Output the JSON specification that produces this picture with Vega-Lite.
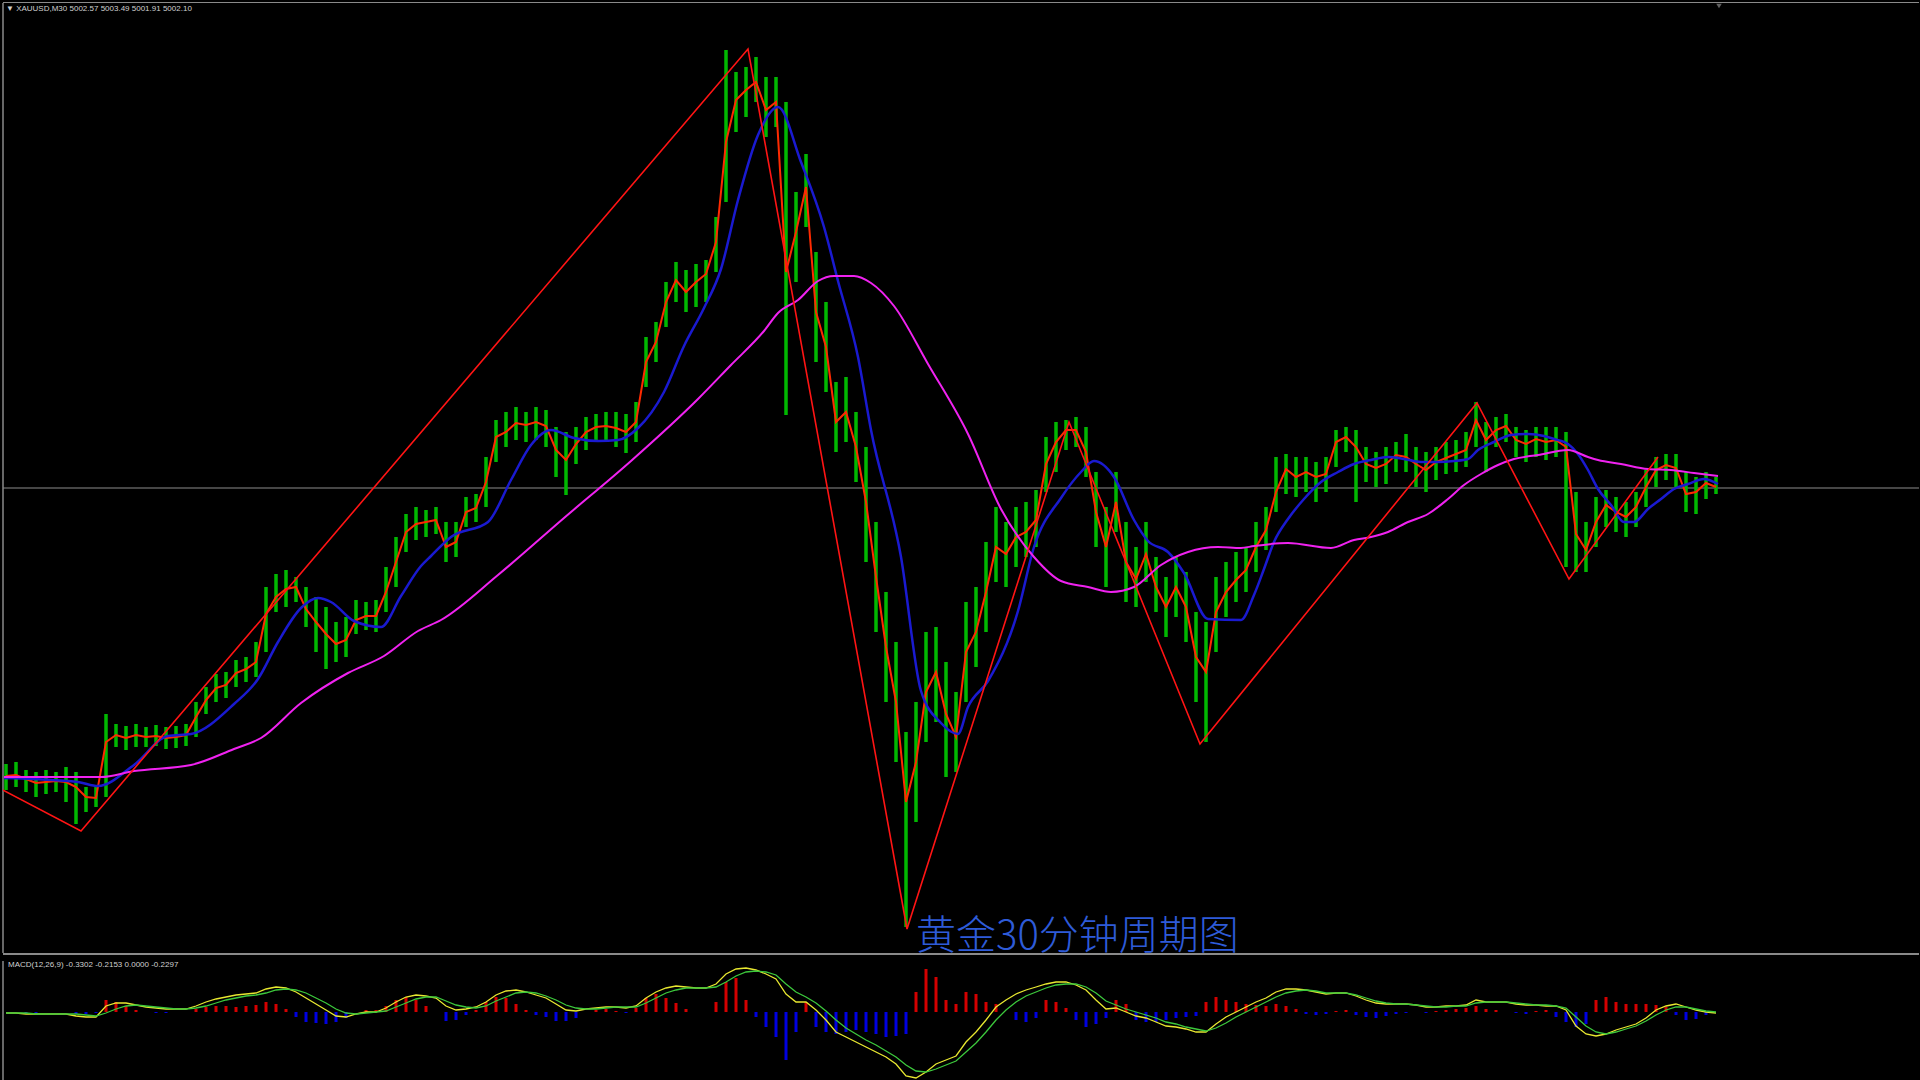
{
"$schema": "https://vega.github.io/schema/vega-lite/v6.json",
"background": "#000000",
"padding": {"left": 2, "top": 1, "right": 2, "bottom": 1},
"spacing": 3,
"config": {"view": {"stroke": null}, "axis": {"disable": true}},
"datasets": {
"bars": [
{"i":0,"h":4726,"l":4700,"r":4714},{"i":1,"h":4728,"l":4703,"r":4715},{"i":2,"h":4720,"l":4698,"r":4711},{"i":3,"h":4718,"l":4693,"r":4707},{"i":4,"h":4720,"l":4696,"r":4708},{"i":5,"h":4718,"l":4698,"r":4709},{"i":6,"h":4723,"l":4688,"r":4708},{"i":7,"h":4718,"l":4666,"r":4703},{"i":8,"h":4703,"l":4678,"r":4693},{"i":9,"h":4703,"l":4683,"r":4692},
{"i":10,"h":4776,"l":4693,"r":4748},{"i":11,"h":4766,"l":4743,"r":4755},{"i":12,"h":4764,"l":4740,"r":4752},{"i":13,"h":4766,"l":4743,"r":4755},{"i":14,"h":4763,"l":4743,"r":4753},{"i":15,"h":4765,"l":4744,"r":4754},{"i":16,"h":4763,"l":4741,"r":4752},{"i":17,"h":4764,"l":4742,"r":4753},{"i":18,"h":4766,"l":4744,"r":4755},{"i":19,"h":4788,"l":4753,"r":4773},
{"i":20,"h":4803,"l":4776,"r":4790},{"i":21,"h":4816,"l":4788,"r":4802},{"i":22,"h":4818,"l":4792,"r":4805},{"i":23,"h":4830,"l":4803,"r":4817},{"i":24,"h":4833,"l":4808,"r":4821},{"i":25,"h":4848,"l":4813,"r":4828},{"i":26,"h":4903,"l":4838,"r":4876},{"i":27,"h":4916,"l":4878,"r":4893},{"i":28,"h":4920,"l":4883,"r":4901},{"i":29,"h":4913,"l":4888,"r":4903},
{"i":30,"h":4903,"l":4863,"r":4881},{"i":31,"h":4893,"l":4838,"r":4868},{"i":32,"h":4883,"l":4821,"r":4856},{"i":33,"h":4868,"l":4828,"r":4846},{"i":34,"h":4873,"l":4833,"r":4850},{"i":35,"h":4890,"l":4856,"r":4870},{"i":36,"h":4888,"l":4860,"r":4874},{"i":37,"h":4890,"l":4858,"r":4874},{"i":38,"h":4923,"l":4878,"r":4898},{"i":39,"h":4953,"l":4903,"r":4928},
{"i":40,"h":4976,"l":4938,"r":4958},{"i":41,"h":4983,"l":4950,"r":4966},{"i":42,"h":4980,"l":4953,"r":4968},{"i":43,"h":4983,"l":4956,"r":4970},{"i":44,"h":4968,"l":4928,"r":4943},{"i":45,"h":4968,"l":4933,"r":4948},{"i":46,"h":4993,"l":4963,"r":4978},{"i":47,"h":4996,"l":4968,"r":4982},{"i":48,"h":5033,"l":4983,"r":5008},{"i":49,"h":5070,"l":5028,"r":5053},
{"i":50,"h":5078,"l":5043,"r":5058},{"i":51,"h":5083,"l":5050,"r":5067},{"i":52,"h":5078,"l":5048,"r":5065},{"i":53,"h":5083,"l":5050,"r":5068},{"i":54,"h":5080,"l":5043,"r":5064},{"i":55,"h":5063,"l":5013,"r":5040},{"i":56,"h":5058,"l":4995,"r":5030},{"i":57,"h":5063,"l":5026,"r":5046},{"i":58,"h":5073,"l":5040,"r":5058},{"i":59,"h":5076,"l":5048,"r":5063},
{"i":60,"h":5078,"l":5048,"r":5064},{"i":61,"h":5078,"l":5043,"r":5062},{"i":62,"h":5076,"l":5037,"r":5058},{"i":63,"h":5088,"l":5048,"r":5068},{"i":64,"h":5153,"l":5103,"r":5128},{"i":65,"h":5168,"l":5128,"r":5148},{"i":66,"h":5208,"l":5163,"r":5188},{"i":67,"h":5228,"l":5188,"r":5210},{"i":68,"h":5220,"l":5178,"r":5198},{"i":69,"h":5226,"l":5183,"r":5208},
{"i":70,"h":5230,"l":5188,"r":5216},{"i":71,"h":5273,"l":5218,"r":5248},{"i":72,"h":5440,"l":5288,"r":5348},{"i":73,"h":5418,"l":5358,"r":5390},{"i":74,"h":5423,"l":5373,"r":5400},{"i":75,"h":5433,"l":5388,"r":5408},{"i":76,"h":5413,"l":5353,"r":5380},{"i":77,"h":5413,"l":5363,"r":5388},{"i":78,"h":5388,"l":5075,"r":5218},{"i":79,"h":5298,"l":5208,"r":5258},
{"i":80,"h":5336,"l":5263,"r":5303},{"i":81,"h":5238,"l":5128,"r":5178},{"i":82,"h":5188,"l":5098,"r":5143},{"i":83,"h":5108,"l":5038,"r":5068},{"i":84,"h":5113,"l":5048,"r":5078},{"i":85,"h":5078,"l":5008,"r":5043},{"i":86,"h":5043,"l":4928,"r":4988},{"i":87,"h":4968,"l":4858,"r":4913},{"i":88,"h":4898,"l":4788,"r":4843},{"i":89,"h":4848,"l":4728,"r":4788},
{"i":90,"h":4758,"l":4563,"r":4688},{"i":91,"h":4788,"l":4668,"r":4728},{"i":92,"h":4858,"l":4748,"r":4798},{"i":93,"h":4863,"l":4768,"r":4818},{"i":94,"h":4828,"l":4713,"r":4776},{"i":95,"h":4798,"l":4718,"r":4753},{"i":96,"h":4888,"l":4788,"r":4838},{"i":97,"h":4903,"l":4823,"r":4858},{"i":98,"h":4948,"l":4858,"r":4898},{"i":99,"h":4983,"l":4908,"r":4943},
{"i":100,"h":4968,"l":4903,"r":4936},{"i":101,"h":4983,"l":4923,"r":4953},{"i":102,"h":4988,"l":4933,"r":4958},{"i":103,"h":5000,"l":4943,"r":4970},{"i":104,"h":5053,"l":4998,"r":5026},{"i":105,"h":5068,"l":5018,"r":5048},{"i":106,"h":5070,"l":5040,"r":5060},{"i":107,"h":5073,"l":5043,"r":5060},{"i":108,"h":5063,"l":5013,"r":5038},{"i":109,"h":5018,"l":4943,"r":4978},
{"i":110,"h":4983,"l":4903,"r":4943},{"i":111,"h":5018,"l":4958,"r":4988},{"i":112,"h":4968,"l":4888,"r":4928},{"i":113,"h":4943,"l":4883,"r":4911},{"i":114,"h":4968,"l":4908,"r":4936},{"i":115,"h":4933,"l":4878,"r":4903},{"i":116,"h":4913,"l":4853,"r":4883},{"i":117,"h":4933,"l":4873,"r":4903},{"i":118,"h":4918,"l":4848,"r":4883},{"i":119,"h":4878,"l":4788,"r":4833},
{"i":120,"h":4868,"l":4748,"r":4818},{"i":121,"h":4913,"l":4838,"r":4878},{"i":122,"h":4928,"l":4873,"r":4898},{"i":123,"h":4938,"l":4888,"r":4910},{"i":124,"h":4943,"l":4898,"r":4920},{"i":125,"h":4968,"l":4918,"r":4943},{"i":126,"h":4983,"l":4940,"r":4960},{"i":127,"h":5033,"l":4978,"r":4998},{"i":128,"h":5036,"l":4996,"r":5021},{"i":129,"h":5033,"l":4993,"r":5013},
{"i":130,"h":5033,"l":4998,"r":5018},{"i":131,"h":5028,"l":4988,"r":5013},{"i":132,"h":5033,"l":4998,"r":5016},{"i":133,"h":5060,"l":5023,"r":5048},{"i":134,"h":5063,"l":5038,"r":5053},{"i":135,"h":5060,"l":4988,"r":5043},{"i":136,"h":5043,"l":5008,"r":5026},{"i":137,"h":5038,"l":5003,"r":5022},{"i":138,"h":5043,"l":5006,"r":5026},{"i":139,"h":5048,"l":5018,"r":5035},
{"i":140,"h":5056,"l":5018,"r":5033},{"i":141,"h":5043,"l":5003,"r":5026},{"i":142,"h":5038,"l":4998,"r":5020},{"i":143,"h":5043,"l":5010,"r":5028},{"i":144,"h":5048,"l":5016,"r":5032},{"i":145,"h":5050,"l":5018,"r":5036},{"i":146,"h":5058,"l":5023,"r":5040},{"i":147,"h":5088,"l":5043,"r":5070},{"i":148,"h":5068,"l":5018,"r":5050},{"i":149,"h":5073,"l":5043,"r":5060},
{"i":150,"h":5076,"l":5048,"r":5064},{"i":151,"h":5063,"l":5033,"r":5050},{"i":152,"h":5060,"l":5028,"r":5046},{"i":153,"h":5063,"l":5033,"r":5051},{"i":154,"h":5063,"l":5030,"r":5048},{"i":155,"h":5063,"l":5033,"r":5050},{"i":156,"h":5058,"l":4923,"r":5043},{"i":157,"h":4998,"l":4918,"r":4956},{"i":158,"h":4968,"l":4918,"r":4940},{"i":159,"h":4993,"l":4943,"r":4968},
{"i":160,"h":5000,"l":4963,"r":4985},{"i":161,"h":4993,"l":4958,"r":4978},{"i":162,"h":4988,"l":4953,"r":4973},{"i":163,"h":4998,"l":4963,"r":4983},{"i":164,"h":5020,"l":4983,"r":5003},{"i":165,"h":5033,"l":5003,"r":5020},{"i":166,"h":5036,"l":5010,"r":5025},{"i":167,"h":5036,"l":5003,"r":5022},{"i":168,"h":5018,"l":4978,"r":4996},{"i":169,"h":5013,"l":4976,"r":4998},
{"i":170,"h":5018,"l":4991,"r":5007},{"i":171,"h":5013,"l":4996,"r":5003}
],
"blue": [
{"i":-0.2,"p":4712},{"i":7.2,"p":4708},{"i":9.2,"p":4704},{"i":12.8,"p":4725},{"i":16.2,"p":4754},{"i":18.5,"p":4756},{"i":22.8,"p":4786},{"i":25.2,"p":4811},{"i":27.2,"p":4848},{"i":29.5,"p":4882},{"i":31.2,"p":4892},{"i":32.5,"p":4888},{"i":34.8,"p":4869},{"i":37.5,"p":4863},{"i":39.5,"p":4894},{"i":41.5,"p":4924},{"i":42.5,"p":4934},{"i":44.5,"p":4953},{"i":48.2,"p":4968},{"i":50.5,"p":5010},{"i":52.5,"p":5045},{"i":54.5,"p":5060},{"i":56.8,"p":5052},{"i":59.2,"p":5049},{"i":61.2,"p":5050},{"i":63.2,"p":5062},{"i":65.8,"p":5098},{"i":67.8,"p":5144},{"i":69.8,"p":5182},{"i":71.5,"p":5221},{"i":73.2,"p":5290},{"i":75.2,"p":5355},{"i":77.2,"p":5383},{"i":79.5,"p":5328},{"i":81.8,"p":5263},{"i":83.2,"p":5209},{"i":85.2,"p":5133},{"i":86.5,"p":5060},{"i":89.5,"p":4933},{"i":91.5,"p":4799},{"i":93.5,"p":4767},{"i":95.2,"p":4756},{"i":96.2,"p":4783},{"i":98.2,"p":4809},{"i":101.2,"p":4879},{"i":102.8,"p":4943},{"i":105.5,"p":4992},{"i":107.5,"p":5018},{"i":108.8,"p":5029},{"i":110.8,"p":5013},{"i":112.8,"p":4970},{"i":114.2,"p":4949},{"i":116.2,"p":4938},{"i":117.8,"p":4917},{"i":120.2,"p":4871},{"i":123.5,"p":4870},{"i":124.8,"p":4895},{"i":125.8,"p":4921},{"i":126.8,"p":4948},{"i":128.2,"p":4971},{"i":129.8,"p":4991},{"i":131.5,"p":5008},{"i":133.2,"p":5018},{"i":134.8,"p":5026},{"i":136.5,"p":5030},{"i":138.2,"p":5033},{"i":139.8,"p":5031},{"i":141.5,"p":5028},{"i":143.2,"p":5028},{"i":144.8,"p":5029},{"i":146.2,"p":5031},{"i":147.2,"p":5040},{"i":148.8,"p":5048},{"i":150.5,"p":5055},{"i":152.2,"p":5056},{"i":153.8,"p":5054},{"i":154.8,"p":5051},{"i":156.2,"p":5046},{"i":157.2,"p":5036},{"i":158.2,"p":5020},{"i":159.2,"p":5001},{"i":160.5,"p":4985},{"i":161.8,"p":4968},{"i":162.8,"p":4968},{"i":164.2,"p":4981},{"i":165.5,"p":4991},{"i":166.8,"p":5001},{"i":168.2,"p":5006},{"i":169.8,"p":5011},{"i":171.2,"p":5006}
],
"mag": [
{"i":-0.2,"p":4713},{"i":9.5,"p":4713},{"i":12.8,"p":4719},{"i":18.5,"p":4725},{"i":22.8,"p":4741},{"i":25.5,"p":4752},{"i":29.5,"p":4787},{"i":34.2,"p":4817},{"i":37.8,"p":4834},{"i":41.2,"p":4859},{"i":43.5,"p":4870},{"i":49.2,"p":4915},{"i":55.8,"p":4972},{"i":62.5,"p":5029},{"i":69.2,"p":5091},{"i":72.5,"p":5125},{"i":75.8,"p":5159},{"i":77.2,"p":5177},{"i":79.2,"p":5190},{"i":81.2,"p":5209},{"i":82.8,"p":5214},{"i":84.8,"p":5214},{"i":86.5,"p":5207},{"i":88.8,"p":5184},{"i":92.2,"p":5126},{"i":96.2,"p":5056},{"i":99.5,"p":4981},{"i":102.8,"p":4933},{"i":105.5,"p":4909},{"i":108.2,"p":4903},{"i":110.5,"p":4898},{"i":112.8,"p":4903},{"i":115.5,"p":4925},{"i":118.2,"p":4938},{"i":121.2,"p":4943},{"i":123.5,"p":4942},{"i":124.8,"p":4944},{"i":128.2,"p":4947},{"i":132.5,"p":4942},{"i":134.8,"p":4950},{"i":136.5,"p":4953},{"i":138.2,"p":4958},{"i":140.2,"p":4968},{"i":142.2,"p":4976},{"i":144.2,"p":4991},{"i":145.8,"p":5005},{"i":147.5,"p":5016},{"i":149.2,"p":5025},{"i":150.8,"p":5031},{"i":153.2,"p":5035},{"i":156.2,"p":5040},{"i":158.2,"p":5033},{"i":159.2,"p":5030},{"i":161.5,"p":5026},{"i":164.2,"p":5021},{"i":166.5,"p":5020},{"i":168.8,"p":5017},{"i":171.2,"p":5014}
],
"zz": [
{"i":-0.5,"p":4701},{"i":7.5,"p":4659},{"i":74.2,"p":5441},{"i":90.1,"p":4561},{"i":106.3,"p":5068},{"i":119.4,"p":4746},{"i":147.1,"p":5087},{"i":156.3,"p":4911},{"i":165.2,"p":5033}
],
"macd": [
{"i":0,"m":-1,"s":-1,"h":0},{"i":1,"m":-1,"s":-1,"h":0},{"i":2,"m":-2,"s":-1,"h":-1},{"i":3,"m":-2,"s":-2,"h":-1},{"i":4,"m":-2,"s":-2,"h":0},{"i":5,"m":-2,"s":-2,"h":0},{"i":6,"m":-2,"s":-2,"h":0},{"i":7,"m":-4,"s":-2,"h":-2},{"i":8,"m":-5,"s":-3,"h":-2},{"i":9,"m":-5,"s":-4,"h":-1},
{"i":10,"m":6,"s":-1,"h":12},{"i":11,"m":9,"s":3,"h":10},{"i":12,"m":9,"s":6,"h":6},{"i":13,"m":7,"s":7,"h":2},{"i":14,"m":5,"s":6,"h":0},{"i":15,"m":4,"s":5,"h":-1},{"i":16,"m":3,"s":4,"h":-1},{"i":17,"m":3,"s":3,"h":0},{"i":18,"m":3,"s":3,"h":0},{"i":19,"m":6,"s":4,"h":3},
{"i":20,"m":10,"s":6,"h":5},{"i":21,"m":13,"s":9,"h":6},{"i":22,"m":15,"s":12,"h":6},{"i":23,"m":17,"s":14,"h":5},{"i":24,"m":18,"s":16,"h":6},{"i":25,"m":19,"s":17,"h":7},{"i":26,"m":23,"s":19,"h":10},{"i":27,"m":25,"s":22,"h":8},{"i":28,"m":24,"s":23,"h":3},{"i":29,"m":20,"s":22,"h":-5},
{"i":30,"m":14,"s":19,"h":-10},{"i":31,"m":8,"s":14,"h":-11},{"i":32,"m":2,"s":9,"h":-12},{"i":33,"m":-4,"s":3,"h":-10},{"i":34,"m":-5,"s":-1,"h":-6},{"i":35,"m":-2,"s":-2,"h":0},{"i":36,"m":0,"s":-1,"h":2},{"i":37,"m":0,"s":0,"h":2},{"i":38,"m":4,"s":1,"h":6},{"i":39,"m":10,"s":5,"h":12},
{"i":40,"m":15,"s":9,"h":15},{"i":41,"m":17,"s":13,"h":12},{"i":42,"m":16,"s":15,"h":6},{"i":43,"m":14,"s":15,"h":0},{"i":44,"m":6,"s":11,"h":-9},{"i":45,"m":2,"s":7,"h":-8},{"i":46,"m":3,"s":5,"h":-3},{"i":47,"m":5,"s":4,"h":2},{"i":48,"m":10,"s":6,"h":10},{"i":49,"m":17,"s":11,"h":15},
{"i":50,"m":21,"s":15,"h":14},{"i":51,"m":22,"s":19,"h":8},{"i":52,"m":20,"s":20,"h":2},{"i":53,"m":17,"s":19,"h":-3},{"i":54,"m":14,"s":16,"h":-5},{"i":55,"m":8,"s":12,"h":-9},{"i":56,"m":2,"s":7,"h":-9},{"i":57,"m":1,"s":4,"h":-6},{"i":58,"m":3,"s":3,"h":0},{"i":59,"m":4,"s":3,"h":2},
{"i":60,"m":5,"s":4,"h":3},{"i":61,"m":5,"s":5,"h":1},{"i":62,"m":4,"s":5,"h":-1},{"i":63,"m":6,"s":5,"h":4},{"i":64,"m":14,"s":9,"h":14},{"i":65,"m":20,"s":14,"h":18},{"i":66,"m":24,"s":19,"h":14},{"i":67,"m":26,"s":22,"h":9},{"i":68,"m":25,"s":24,"h":3},{"i":69,"m":24,"s":24,"h":0},
{"i":70,"m":24,"s":24,"h":0},{"i":71,"m":28,"s":25,"h":10},{"i":72,"m":38,"s":30,"h":30},{"i":73,"m":43,"s":36,"h":34},{"i":74,"m":44,"s":40,"h":12},{"i":75,"m":42,"s":41,"h":-5},{"i":76,"m":38,"s":40,"h":-15},{"i":77,"m":33,"s":37,"h":-25},{"i":78,"m":18,"s":28,"h":-48},{"i":79,"m":10,"s":20,"h":-20},
{"i":80,"m":10,"s":15,"h":10},{"i":81,"m":2,"s":9,"h":-15},{"i":82,"m":-8,"s":1,"h":-20},{"i":83,"m":-20,"s":-8,"h":-22},{"i":84,"m":-25,"s":-16,"h":-20},{"i":85,"m":-30,"s":-22,"h":-18},{"i":86,"m":-35,"s":-28,"h":-20},{"i":87,"m":-40,"s":-33,"h":-22},{"i":88,"m":-45,"s":-39,"h":-25},{"i":89,"m":-52,"s":-45,"h":-24},
{"i":90,"m":-64,"s":-53,"h":-22},{"i":91,"m":-66,"s":-59,"h":20},{"i":92,"m":-60,"s":-60,"h":43},{"i":93,"m":-52,"s":-57,"h":35},{"i":94,"m":-48,"s":-53,"h":12},{"i":95,"m":-44,"s":-49,"h":8},{"i":96,"m":-30,"s":-40,"h":20},{"i":97,"m":-20,"s":-31,"h":18},{"i":98,"m":-8,"s":-20,"h":10},{"i":99,"m":5,"s":-8,"h":8},
{"i":100,"m":12,"s":2,"h":0},{"i":101,"m":18,"s":10,"h":-8},{"i":102,"m":22,"s":16,"h":-10},{"i":103,"m":25,"s":20,"h":-6},{"i":104,"m":28,"s":24,"h":12},{"i":105,"m":30,"s":27,"h":10},{"i":106,"m":30,"s":28,"h":4},{"i":107,"m":27,"s":28,"h":-8},{"i":108,"m":22,"s":25,"h":-15},{"i":109,"m":12,"s":19,"h":-12},
{"i":110,"m":3,"s":11,"h":-6},{"i":111,"m":4,"s":7,"h":12},{"i":112,"m":0,"s":3,"h":8},{"i":113,"m":-4,"s":0,"h":-8},{"i":114,"m":-6,"s":-3,"h":-10},{"i":115,"m":-10,"s":-6,"h":-10},{"i":116,"m":-14,"s":-10,"h":-8},{"i":117,"m":-15,"s":-12,"h":-6},{"i":118,"m":-17,"s":-15,"h":-5},{"i":119,"m":-20,"s":-17,"h":-4},
{"i":120,"m":-20,"s":-19,"h":10},{"i":121,"m":-12,"s":-16,"h":15},{"i":122,"m":-5,"s":-11,"h":12},{"i":123,"m":0,"s":-5,"h":10},{"i":124,"m":5,"s":0,"h":8},{"i":125,"m":10,"s":5,"h":7},{"i":126,"m":14,"s":10,"h":6},{"i":127,"m":20,"s":15,"h":8},{"i":128,"m":23,"s":19,"h":6},{"i":129,"m":23,"s":21,"h":3},
{"i":130,"m":22,"s":22,"h":-2},{"i":131,"m":20,"s":21,"h":-3},{"i":132,"m":18,"s":19,"h":-2},{"i":133,"m":19,"s":19,"h":1},{"i":134,"m":19,"s":19,"h":2},{"i":135,"m":16,"s":17,"h":-3},{"i":136,"m":12,"s":14,"h":-5},{"i":137,"m":9,"s":11,"h":-6},{"i":138,"m":8,"s":9,"h":-4},{"i":139,"m":8,"s":8,"h":-2},
{"i":140,"m":8,"s":8,"h":-1},{"i":141,"m":7,"s":7,"h":0},{"i":142,"m":5,"s":6,"h":-1},{"i":143,"m":5,"s":5,"h":1},{"i":144,"m":6,"s":5,"h":2},{"i":145,"m":6,"s":6,"h":3},{"i":146,"m":7,"s":6,"h":4},{"i":147,"m":12,"s":9,"h":6},{"i":148,"m":10,"s":10,"h":3},{"i":149,"m":10,"s":10,"h":2},
{"i":150,"m":10,"s":10,"h":0},{"i":151,"m":8,"s":9,"h":-1},{"i":152,"m":7,"s":8,"h":-2},{"i":153,"m":7,"s":7,"h":1},{"i":154,"m":6,"s":7,"h":2},{"i":155,"m":6,"s":6,"h":-5},{"i":156,"m":2,"s":4,"h":-10},{"i":157,"m":-14,"s":-5,"h":-15},{"i":158,"m":-22,"s":-14,"h":-12},{"i":159,"m":-24,"s":-20,"h":12},
{"i":160,"m":-22,"s":-22,"h":15},{"i":161,"m":-18,"s":-20,"h":10},{"i":162,"m":-15,"s":-17,"h":8},{"i":163,"m":-12,"s":-14,"h":8},{"i":164,"m":-6,"s":-9,"h":8},{"i":165,"m":2,"s":-3,"h":7},{"i":166,"m":6,"s":2,"h":5},{"i":167,"m":8,"s":5,"h":-3},{"i":168,"m":5,"s":5,"h":-8},{"i":169,"m":2,"s":3,"h":-7},
{"i":170,"m":0,"s":1,"h":-3},{"i":171,"m":-1,"s":0,"h":0}
]
},
"vconcat": [
{
"width": 1916, "height": 950,
"layer": [
{"data": {"values": [{"p": 5002}]}, "mark": {"type": "rule", "color": "#8c8c8c", "strokeWidth": 1},
 "encoding": {"y": {"field": "p", "type": "quantitative", "scale": {"domain": [4537, 5487], "nice": false, "zero": false}, "axis": null}}},
{"data": {"values": [{"p": 5487.5}]}, "mark": {"type": "rule", "color": "#8a8a8a", "strokeWidth": 1},
 "encoding": {"y": {"field": "p", "type": "quantitative", "scale": {"domain": [4537, 5487], "nice": false, "zero": false}, "axis": null}}},
{"data": {"values": [{"p": 4536}]}, "mark": {"type": "rule", "color": "#8a8a8a", "strokeWidth": 2},
 "encoding": {"y": {"field": "p", "type": "quantitative", "scale": {"domain": [4537, 5487], "nice": false, "zero": false}, "axis": null}}},
{"data": {"values": [{"i": -0.3}]}, "mark": {"type": "rule", "color": "#8a8a8a", "strokeWidth": 1.5},
 "encoding": {"x": {"field": "i", "type": "quantitative", "scale": {"domain": [-0.3, 191.3], "nice": false, "zero": false}, "axis": null}}},
{"data": {"name": "bars"}, "mark": {"type": "rule", "color": "#00b800", "strokeWidth": 3.5, "clip": true},
 "encoding": {"x": {"field": "i", "type": "quantitative", "scale": {"domain": [-0.3, 191.3], "nice": false, "zero": false}, "axis": null},
  "y": {"field": "h", "type": "quantitative", "scale": {"domain": [4537, 5487], "nice": false, "zero": false}, "axis": null},
  "y2": {"field": "l"}}},
{"data": {"name": "bars"}, "mark": {"type": "line", "color": "#ff2a00", "strokeWidth": 2, "clip": true},
 "encoding": {"x": {"field": "i", "type": "quantitative", "scale": {"domain": [-0.3, 191.3], "nice": false, "zero": false}, "axis": null},
  "y": {"field": "r", "type": "quantitative", "scale": {"domain": [4537, 5487], "nice": false, "zero": false}, "axis": null}}},
{"data": {"name": "blue"}, "mark": {"type": "line", "color": "#1a1ad0", "strokeWidth": 2.5, "clip": true, "interpolate": "monotone"},
 "encoding": {"x": {"field": "i", "type": "quantitative", "scale": {"domain": [-0.3, 191.3], "nice": false, "zero": false}, "axis": null},
  "y": {"field": "p", "type": "quantitative", "scale": {"domain": [4537, 5487], "nice": false, "zero": false}, "axis": null}}},
{"data": {"name": "mag"}, "mark": {"type": "line", "color": "#f022f0", "strokeWidth": 2, "clip": true, "interpolate": "monotone"},
 "encoding": {"x": {"field": "i", "type": "quantitative", "scale": {"domain": [-0.3, 191.3], "nice": false, "zero": false}, "axis": null},
  "y": {"field": "p", "type": "quantitative", "scale": {"domain": [4537, 5487], "nice": false, "zero": false}, "axis": null}}},
{"data": {"name": "zz"}, "mark": {"type": "line", "color": "#ff1414", "strokeWidth": 1.6, "clip": true},
 "encoding": {"x": {"field": "i", "type": "quantitative", "scale": {"domain": [-0.3, 191.3], "nice": false, "zero": false}, "axis": null},
  "y": {"field": "p", "type": "quantitative", "scale": {"domain": [4537, 5487], "nice": false, "zero": false}, "axis": null}}},
{"data": {"values": [{"t": "黄金30分钟周期图", "i": 91, "p": 4541}]},
 "mark": {"type": "text", "font": "Noto Sans CJK SC", "fontSize": 40, "fontWeight": 300, "color": "#2e5bd8", "align": "left", "baseline": "alphabetic"},
 "encoding": {"x": {"field": "i", "type": "quantitative", "scale": {"domain": [-0.3, 191.3], "nice": false, "zero": false}, "axis": null},
  "y": {"field": "p", "type": "quantitative", "scale": {"domain": [4537, 5487], "nice": false, "zero": false}, "axis": null},
  "text": {"field": "t"}}},
{"data": {"values": [{"t": "▼ XAUUSD,M30  5002.57 5003.49 5001.91 5002.10", "i": 0, "p": 5481}]},
 "mark": {"type": "text", "font": "Liberation Sans", "fontSize": 8, "color": "#d0d0d0", "align": "left", "baseline": "middle"},
 "encoding": {"x": {"field": "i", "type": "quantitative", "scale": {"domain": [-0.3, 191.3], "nice": false, "zero": false}, "axis": null},
  "y": {"field": "p", "type": "quantitative", "scale": {"domain": [4537, 5487], "nice": false, "zero": false}, "axis": null},
  "text": {"field": "t"}}},
{"data": {"values": [{"i": 171.3, "p": 5484}]},
 "mark": {"type": "point", "shape": "triangle-down", "filled": true, "color": "#8a8a8a", "size": 30},
 "encoding": {"x": {"field": "i", "type": "quantitative", "scale": {"domain": [-0.3, 191.3], "nice": false, "zero": false}, "axis": null},
  "y": {"field": "p", "type": "quantitative", "scale": {"domain": [4537, 5487], "nice": false, "zero": false}, "axis": null}}}
]
},
{
"width": 1916, "height": 125,
"layer": [
{"data": {"values": [{"i": -0.3}]}, "mark": {"type": "rule", "color": "#8a8a8a", "strokeWidth": 1.5},
 "encoding": {"x": {"field": "i", "type": "quantitative", "scale": {"domain": [-0.3, 191.3], "nice": false, "zero": false}, "axis": null}}},
{"data": {"values": [{"v": -74}]}, "mark": {"type": "rule", "color": "#8a8a8a", "strokeWidth": 1},
 "encoding": {"y": {"field": "v", "type": "quantitative", "scale": {"domain": [-74, 51], "nice": false, "zero": false}, "axis": null}}},
{"data": {"name": "macd"}, "transform": [{"filter": "datum.h > 0"}], "mark": {"type": "rule", "color": "#d40000", "strokeWidth": 3},
 "encoding": {"x": {"field": "i", "type": "quantitative", "scale": {"domain": [-0.3, 191.3], "nice": false, "zero": false}, "axis": null},
  "y": {"field": "h", "type": "quantitative", "scale": {"domain": [-74, 51], "nice": false, "zero": false}, "axis": null},
  "y2": {"datum": 0}}},
{"data": {"name": "macd"}, "transform": [{"filter": "datum.h < 0"}], "mark": {"type": "rule", "color": "#0000e0", "strokeWidth": 3},
 "encoding": {"x": {"field": "i", "type": "quantitative", "scale": {"domain": [-0.3, 191.3], "nice": false, "zero": false}, "axis": null},
  "y": {"field": "h", "type": "quantitative", "scale": {"domain": [-74, 51], "nice": false, "zero": false}, "axis": null},
  "y2": {"datum": 0}}},
{"data": {"name": "macd"}, "mark": {"type": "line", "color": "#e8e830", "strokeWidth": 1.3},
 "encoding": {"x": {"field": "i", "type": "quantitative", "scale": {"domain": [-0.3, 191.3], "nice": false, "zero": false}, "axis": null},
  "y": {"field": "m", "type": "quantitative", "scale": {"domain": [-74, 51], "nice": false, "zero": false}, "axis": null}}},
{"data": {"name": "macd"}, "mark": {"type": "line", "color": "#3cc83c", "strokeWidth": 1.3},
 "encoding": {"x": {"field": "i", "type": "quantitative", "scale": {"domain": [-0.3, 191.3], "nice": false, "zero": false}, "axis": null},
  "y": {"field": "s", "type": "quantitative", "scale": {"domain": [-74, 51], "nice": false, "zero": false}, "axis": null}}},
{"data": {"values": [{"t": "MACD(12,26,9) -0.3302 -0.2153 0.0000 -0.2297", "i": 0.2, "v": 47}]},
 "mark": {"type": "text", "font": "Liberation Sans", "fontSize": 8, "color": "#d0d0d0", "align": "left", "baseline": "middle"},
 "encoding": {"x": {"field": "i", "type": "quantitative", "scale": {"domain": [-0.3, 191.3], "nice": false, "zero": false}, "axis": null},
  "y": {"field": "v", "type": "quantitative", "scale": {"domain": [-74, 51], "nice": false, "zero": false}, "axis": null},
  "text": {"field": "t"}}}
]
}
]
}
